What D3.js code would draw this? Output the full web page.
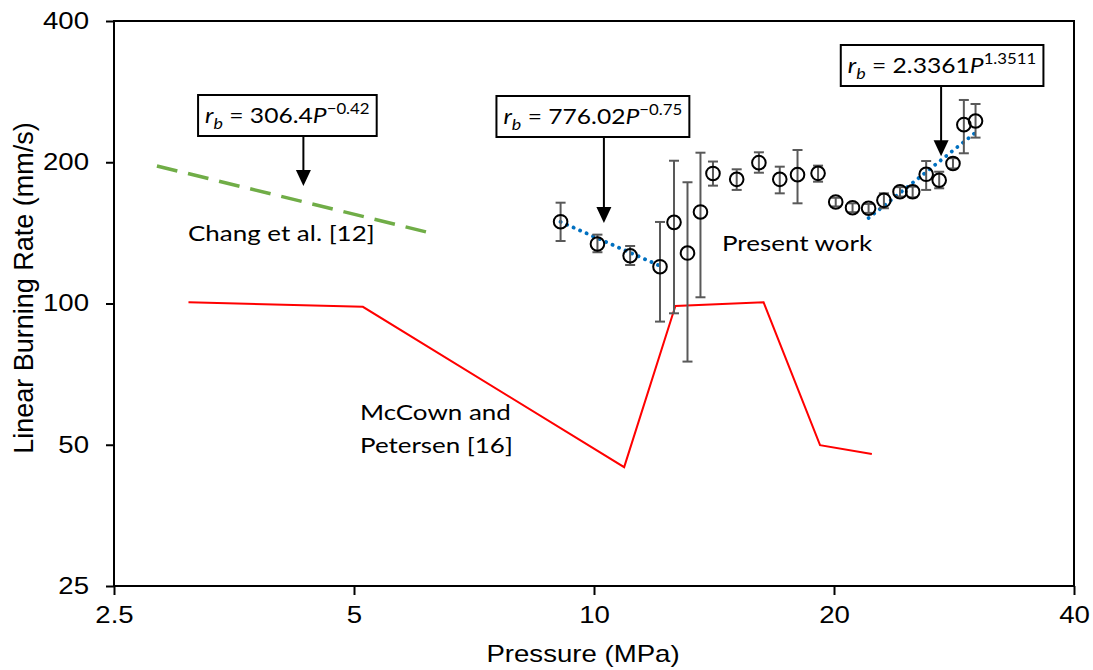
<!DOCTYPE html>
<html>
<head>
<meta charset="utf-8">
<script src="https://cdn.jsdelivr.net/npm/d3@7"></script>
<style>
  body { margin: 0; background: #fff; }
  svg { display: block; }
</style>
</head>
<body>
<div id="chart"></div>
<script>
// present work: pressure (MPa), burning rate (mm/s) and error bar limits
const pressure = [9.08, 10.1, 11.1, 12.1, 12.6, 13.1, 13.6, 14.1, 15.1, 16.1, 17.1, 18.0,
  19.1, 20.1, 21.1, 22.1, 23.1, 24.2, 25.1, 26.1, 27.1, 28.2, 29.1, 30.1];
const rate = [149.4, 133.9, 126.4, 119.8, 148.9, 128.1, 156.7, 189.3, 183.9, 199.6, 183.9, 188.2,
  189.4, 164.6, 160.0, 159.6, 165.9, 173.1, 173.1, 188.5, 183.1, 198.8, 240.5, 244.9];
const rateHigh = [164, 140.2, 132.6, 149.2, 201.5, 181.3, 209.6, 200.7, 193.2, 210, 195.7, 212.4,
  196.7, 168, 163.5, 163, 171.7, 177, 177.4, 201.2, 190.9, 204, 271.5, 266.2];
const rateLow = [135.9, 128.6, 120.8, 91.5, 95.3, 75.2, 103.1, 178.3, 174.6, 190, 171.7, 163.5,
  181.8, 161, 156.5, 156, 159.6, 169, 168.4, 174.6, 176, 194, 209, 225.7];

// power-law fits (end points)
const fitLowP = [9.08, 12.1];
const fitLowR = [149.3, 120.3];
const fitHighP = [22.1, 30.1];
const fitHighR = [152.1, 231.4];

// Chang et al. [12]
const changP = [2.83, 6.22];
const changR = [196.4, 141.5];

// McCown and Petersen [16]
const mccownP = [3.10, 5.13, 10.91, 12.65, 16.32, 19.21, 22.31];
const mccownR = [100.6, 98.4, 44.8, 98.8, 100.6, 49.9, 47.8];

const xTicks = [2.5, 5, 10, 20, 40];
const yTicks = [25, 50, 100, 200, 400];

// annotation boxes: arrow tip in data units, coefficient and exponent
const notes = [
  { p: 4.32, r: 178, coef: '306.4', exp: '\u22120.42', dx: -16, top: 95 },
  { p: 10.29, r: 148.4, coef: '776.02', exp: '\u22120.75', dx: -11, top: 96 },
  { p: 27.25, r: 206, coef: '2.3361', exp: '1.3511', dx: 1, top: 45 },
];

const width = 1093, height = 670;
const margins = { left: 114, right: 19, top: 21, bottom: 84 };
const w = width - margins.left - margins.right;
const h = height - margins.top - margins.bottom;
const stretch = 1.2; // text in the source is a little wide

const svg = d3.select('#chart').append('svg').attr('width', width).attr('height', height);
const g = svg.append('g').attr('transform', `translate(${margins.left},${margins.top})`);

const x = d3.scaleLog().base(2).domain([2.5, 40]).range([0, w]);
const y = d3.scaleLog().base(2).domain([25, 400]).range([h, 0]);

const axisFont = '"Liberation Sans", Arial, sans-serif';
const noteFont = 'Lato, "Open Sans", sans-serif';

// frame
g.append('rect').attr('width', w).attr('height', h)
  .attr('fill', 'none').attr('stroke', '#000').attr('stroke-width', 2);

const xAxis = g.append('g').attr('transform', `translate(0,${h})`)
  .call(d3.axisBottom(x).tickValues(xTicks).tickFormat(d3.format('')).tickSize(9).tickPadding(12));
const yAxis = g.append('g')
  .call(d3.axisLeft(y).tickValues(yTicks).tickFormat(d3.format('')).tickSize(8));
[xAxis, yAxis].forEach((a) => {
  a.select('.domain').remove();
  a.selectAll('line').attr('stroke', '#000').attr('stroke-width', 2);
  a.selectAll('text').attr('fill', '#000').style('font-family', axisFont).style('font-size', '23px')
    .attr('transform', `scale(${stretch},1)`);
});
yAxis.selectAll('text').attr('x', -25 / stretch);

svg.append('text').attr('transform', `translate(583,662) scale(${stretch},1)`)
  .attr('text-anchor', 'middle').style('font-family', axisFont).style('font-size', '23px')
  .text('Pressure (MPa)');
svg.append('text').attr('transform', 'translate(33,288) rotate(-90)')
  .attr('text-anchor', 'middle').style('font-family', axisFont).style('font-size', '27px')
  .text('Linear Burning Rate (mm/s)');

const line = d3.line().x((d) => x(d[0])).y((d) => y(d[1]));

// McCown and Petersen
g.append('path').datum(d3.zip(mccownP, mccownR)).attr('d', line)
  .attr('fill', 'none').attr('stroke', '#ff0000').attr('stroke-width', 2);

// Chang et al.
g.append('path').datum(d3.zip(changP, changR)).attr('d', line)
  .attr('fill', 'none').attr('stroke', '#70ad47').attr('stroke-width', 3.5)
  .attr('stroke-dasharray', '21 11');

// fits
[[fitLowP, fitLowR], [fitHighP, fitHighR]].forEach(([ps, rs]) => {
  g.append('path').datum(d3.zip(ps, rs)).attr('d', line)
    .attr('fill', 'none').attr('stroke', '#0070c0').attr('stroke-width', 3.8)
    .attr('stroke-linecap', 'round').attr('stroke-dasharray', '0.1 7');
});

// error bars and markers
const pts = pressure.map((p, i) => ({ p, r: rate[i], hi: rateHigh[i], lo: rateLow[i] }));
const bars = g.append('g').attr('stroke', '#595959').attr('stroke-width', 2);
pts.forEach((d) => {
  const cx = x(d.p);
  bars.append('line').attr('x1', cx).attr('x2', cx).attr('y1', y(d.hi)).attr('y2', y(d.lo));
  [d.hi, d.lo].forEach((v) => {
    bars.append('line').attr('x1', cx - 5).attr('x2', cx + 5).attr('y1', y(v)).attr('y2', y(v));
  });
});
g.append('g').selectAll('circle').data(pts).join('circle')
  .attr('cx', (d) => x(d.p)).attr('cy', (d) => y(d.r)).attr('r', 6.8)
  .attr('fill', 'none').attr('stroke', '#000').attr('stroke-width', 2);

// series labels
const labels = [
  { t: ['Chang et al. [12]'], x: 188, y: 241 },
  { t: ['Present work'], x: 722, y: 251 },
  { t: ['McCown and', 'Petersen [16]'], x: 360, y: 420 },
];
labels.forEach((l) => {
  const t = svg.append('text').style('font-family', noteFont).style('font-size', '22px').attr('fill', '#000')
    .attr('transform', `translate(${l.x},${l.y}) scale(1.18,1)`);
  l.t.forEach((s, i) => t.append('tspan').attr('x', 0).attr('y', i * 33).text(s));
});

// equation boxes with arrows
notes.forEach((n) => {
  const ax = margins.left + x(n.p);
  const ay = margins.top + y(n.r);
  const grp = svg.append('g');
  const txt = grp.append('text').style('font-family', noteFont).style('font-size', '22px').attr('fill', '#000');
  txt.append('tspan').style('font-style', 'italic').text('r');
  txt.append('tspan').style('font-style', 'italic').style('font-size', '16px').attr('dy', 6).text('b');
  txt.append('tspan').attr('dy', -6).text(` = ${n.coef}`);
  txt.append('tspan').style('font-style', 'italic').text('P');
  txt.append('tspan').style('font-size', '15px').attr('dy', -9).text(n.exp);
  const sx = 1.12;
  const bb = txt.node().getBBox();
  const boxW = bb.width * sx + 14;
  const boxH = 41;
  const bx = ax + n.dx - boxW / 2;
  txt.attr('transform', `translate(${bx + 7},${n.top + 28}) scale(${sx},1)`);
  grp.insert('rect', 'text').attr('x', bx).attr('y', n.top).attr('width', boxW).attr('height', boxH)
    .attr('fill', '#fff').attr('stroke', '#000').attr('stroke-width', 2);
  grp.append('line').attr('x1', ax).attr('x2', ax).attr('y1', n.top + boxH).attr('y2', ay - 12)
    .attr('stroke', '#000').attr('stroke-width', 2);
  grp.append('path').attr('d', `M${ax - 7.5},${ay - 16}L${ax + 7.5},${ay - 16}L${ax},${ay}Z`).attr('fill', '#000');
});
</script>
</body>
</html>
